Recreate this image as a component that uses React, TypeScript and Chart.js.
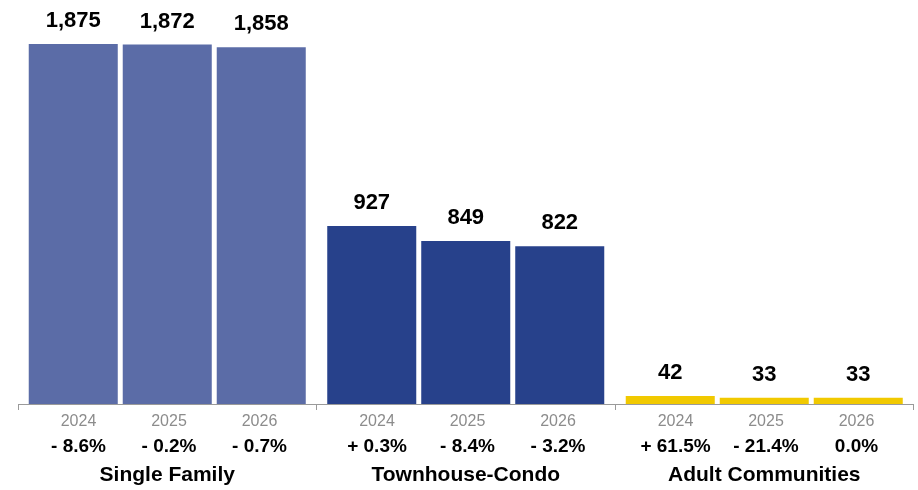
import React, { useEffect, useRef } from "react";
import { Chart, registerables } from "chart.js";

Chart.register(...registerables);

const groups = ["Single Family", "Townhouse-Condo", "Adult Communities"];
const years = ["2024", "2025", "2026"];
const values2024 = [1875, 927, 42];
const values2025 = [1872, 849, 33];
const values2026 = [1858, 822, 33];
const change2024 = ["- 8.6%", "+ 0.3%", "+ 61.5%"];
const change2025 = ["- 0.2%", "- 8.4%", "- 21.4%"];
const change2026 = ["- 0.7%", "- 3.2%", "0.0%"];
const groupColors = ["#5b6ca7", "#27418b", "#f1c900"];
const yMax = 2000;

const seriesValues = [values2024, values2025, values2026];
const seriesChanges = [change2024, change2025, change2026];

const FONT = '"Liberation Sans", Arial, Helvetica, sans-serif';

const labelPlugin = {
  id: "customLabels",
  afterDatasetsDraw(chart: any) {
    const ctx = chart.ctx;
    const xScale = chart.scales.x;
    ctx.save();
    ctx.textAlign = "center";
    ctx.textBaseline = "alphabetic";
    chart.data.datasets.forEach((ds: any, i: number) => {
      const meta = chart.getDatasetMeta(i);
      meta.data.forEach((el: any, j: number) => {
        const v = ds.data[j];
        ctx.fillStyle = "#000";
        ctx.font = `bold 22px ${FONT}`;
        ctx.fillText(v.toLocaleString("en-US"), el.x, el.y - 17);
        const cx = xScale.getPixelForValue(j) + 1.75 + (i - 1) * 90.5;
        ctx.fillStyle = "#8c8c8c";
        ctx.font = `16px ${FONT}`;
        ctx.fillText(years[i], cx, 426);
        ctx.fillStyle = "#000";
        ctx.font = `bold 19px ${FONT}`;
        ctx.fillText(seriesChanges[i][j], cx, 452);
      });
    });
    ctx.fillStyle = "#000";
    ctx.font = `bold 21px ${FONT}`;
    groups.forEach((g, j) => {
      ctx.fillText(g, xScale.getPixelForValue(j), 481);
    });
    ctx.restore();
  },
};

export default function App() {
  const ref = useRef<HTMLCanvasElement | null>(null);
  useEffect(() => {
    document.body.style.margin = "0";
    if (!ref.current) return;
    const chart = new Chart(ref.current, {
      type: "bar",
      data: {
        labels: groups,
        datasets: years.map((y, i) => ({
          label: y,
          data: seriesValues[i],
          backgroundColor: groupColors,
          borderWidth: 0,
          categoryPercentage: 0.9447,
          barPercentage: 0.947,
        })),
      },
      options: {
        responsive: true,
        maintainAspectRatio: false,
        animation: false,
        layout: { padding: { top: 20, left: 18, right: 4.5, bottom: 0 } },
        plugins: {
          legend: { display: false },
          tooltip: { enabled: false },
        },
        scales: {
          x: {
            type: "category",
            offset: true,
            grid: {
              display: true,
              drawOnChartArea: false,
              drawTicks: true,
              tickLength: 6,
              color: "#9a9a9a",
              offset: true,
            },
            border: { display: true, color: "#9a9a9a", width: 1 },
            ticks: { display: false },
            afterFit: (scale: any) => {
              scale.height = 86;
            },
          },
          y: {
            display: false,
            min: 0,
            max: yMax,
          },
        },
      },
      plugins: [labelPlugin],
    });
    return () => chart.destroy();
  }, []);
  return (
    <div style={{ position: "relative", width: 918, height: 490 }}>
      <canvas ref={ref} />
    </div>
  );
}
